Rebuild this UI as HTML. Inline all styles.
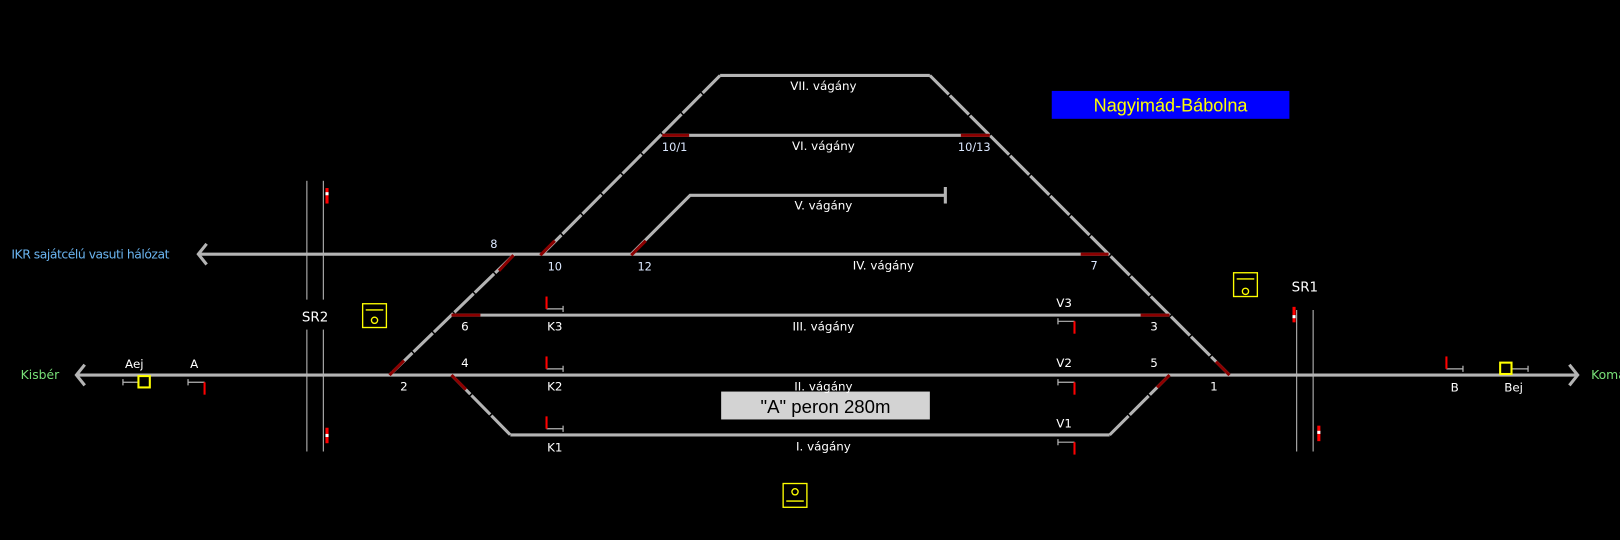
<!DOCTYPE html>
<html><head><meta charset="utf-8"><style>
html,body{margin:0;padding:0;background:#000;}
svg{display:block;}
text{font-family:"DejaVu Sans","Liberation Sans",sans-serif;}
</style></head><body>
<svg width="1620" height="540" viewBox="0 0 1568 522.67" preserveAspectRatio="none" xmlns="http://www.w3.org/2000/svg">
<rect width="1568" height="523" fill="#000"/>
<!-- SR lines -->
<g stroke="#a0a0a0" stroke-width="1.2">
<line x1="297" y1="175" x2="297" y2="290"/><line x1="313" y1="175" x2="313" y2="290"/>
<line x1="297" y1="319" x2="297" y2="437"/><line x1="313" y1="319" x2="313" y2="437"/>
<line x1="1255" y1="300" x2="1255" y2="437"/><line x1="1271" y1="300" x2="1271" y2="437"/>
</g>
<!-- tracks -->
<g stroke="#b4b4b4" stroke-width="3" fill="none">
<line x1="74" y1="363" x2="1527" y2="363"/>
<line x1="192" y1="246" x2="1073" y2="246"/>
<line x1="697" y1="73" x2="900" y2="73"/>
<line x1="641" y1="131" x2="958" y2="131"/>
<polyline points="611,246 668,189 915,189"/>
<line x1="915" y1="181" x2="915" y2="197"/>
<line x1="437" y1="305" x2="1132" y2="305"/>
<line x1="494" y1="421" x2="1074" y2="421"/>
<polyline points="82,353 74,363 82,373"/>
<polyline points="200,236 192,246 200,256"/>
<polyline points="1519,353 1527,363 1519,373"/>
</g>
<g stroke="#b4b4b4" stroke-width="3" fill="none" stroke-dasharray="26 1.5">
<line x1="525" y1="246" x2="697" y2="73"/>
<line x1="900" y1="73" x2="1190" y2="363"/>
<line x1="498" y1="246" x2="377" y2="363"/>
<line x1="437" y1="363" x2="494" y2="421"/>
<line x1="1074" y1="421" x2="1132" y2="363"/>
</g>
<!-- red switch parts -->
<g stroke="#8b0000" stroke-width="3">
<line x1="641" y1="131" x2="667" y2="131"/>
<line x1="930" y1="131" x2="958" y2="131"/>
<line x1="1046" y1="246" x2="1073" y2="246"/>
<line x1="1104" y1="305" x2="1132" y2="305"/>
<line x1="437" y1="305" x2="465" y2="305"/>
<line x1="1177" y1="350" x2="1190" y2="363"/>
<line x1="1132" y1="363" x2="1120" y2="375"/>
<line x1="377" y1="363" x2="391" y2="349"/>
<line x1="437" y1="363" x2="451" y2="377"/>
<line x1="483" y1="262" x2="497" y2="247"/>
<line x1="523" y1="247" x2="537" y2="233"/>
<line x1="611" y1="247" x2="625" y2="233"/>
</g>
<!-- SR markers -->
<g>
<rect x="315" y="182" width="3" height="15" fill="#f00"/><rect x="315" y="186" width="3" height="3" fill="#fff"/>
<rect x="315" y="414" width="3" height="15" fill="#f00"/><rect x="315" y="420" width="3" height="3" fill="#fff"/>
<rect x="1251" y="297" width="3" height="15" fill="#f00"/><rect x="1251" y="305" width="3" height="3" fill="#fff"/>
<rect x="1275" y="412" width="3" height="15" fill="#f00"/><rect x="1275" y="417" width="3" height="3" fill="#fff"/>
</g>
<!-- signals -->
<g stroke="#b4b4b4" stroke-width="1.2" fill="none">
<path d="M529,299 H545 M545,296 V302"/>
<path d="M529,357 H545 M545,354 V360"/>
<path d="M529,415 H545 M545,412 V418"/>
<path d="M1024,311 H1040 M1024,308 V314"/>
<path d="M1024,370 H1040 M1024,367 V373"/>
<path d="M1024,428 H1040 M1024,425 V431"/>
<path d="M182,370 H198 M182,367 V373"/>
<path d="M119,370 H134 M119,367 V373"/>
<path d="M1400,357 H1416 M1416,354 V360"/>
<path d="M1463,357 H1479 M1479,354 V360"/>
</g>
<g stroke="#f00" stroke-width="2">
<line x1="529" y1="287" x2="529" y2="299"/>
<line x1="529" y1="345" x2="529" y2="357"/>
<line x1="529" y1="403" x2="529" y2="415"/>
<line x1="1040" y1="311" x2="1040" y2="323"/>
<line x1="1040" y1="370" x2="1040" y2="382"/>
<line x1="1040" y1="428" x2="1040" y2="440"/>
<line x1="198" y1="370" x2="198" y2="382"/>
<line x1="1400" y1="345" x2="1400" y2="357"/>
</g>
<g stroke="#ff0" stroke-width="2" fill="none">
<rect x="134" y="364" width="11" height="11"/>
<rect x="1452" y="351" width="11" height="11"/>
</g>
<!-- yellow boxes -->
<g stroke="#ff0" stroke-width="1.3" fill="none">
<rect x="351" y="294" width="23" height="23"/><line x1="354" y1="300" x2="371" y2="300"/><circle cx="362.5" cy="310" r="3"/>
<rect x="1194" y="264" width="23" height="23"/><line x1="1197" y1="270" x2="1214" y2="270"/><circle cx="1205.5" cy="282" r="3"/>
<rect x="758" y="468" width="23" height="23"/><line x1="761" y1="485" x2="778" y2="485"/><circle cx="769.5" cy="476" r="3"/>
</g>
<!-- title & platform -->
<rect x="1018" y="88" width="230" height="27" fill="#0000ff"/>
<text x="1133" y="108" fill="#ff0" font-size="17.5" text-anchor="middle" style="font-family:'Liberation Sans',sans-serif">Nagyimád-Bábolna</text>
<rect x="698" y="379" width="202" height="27" fill="#d3d3d3"/>
<text x="799" y="400" fill="#000" font-size="18" text-anchor="middle" style="font-family:'Liberation Sans',sans-serif">"A" peron 280m</text>
<!-- labels -->
<g fill="#fff" font-size="11.5" text-anchor="middle">
<text x="797" y="87">VII. vágány</text>
<text x="797" y="145">VI. vágány</text>
<text x="797" y="203">V. vágány</text>
<text x="855" y="261">IV. vágány</text>
<text x="797" y="320">III. vágány</text>
<text x="797" y="378">II. vágány</text>
<text x="797" y="436">I. vágány</text>
<text x="537" y="320">K3</text><text x="537" y="378">K2</text><text x="537" y="437">K1</text>
<text x="1030" y="297">V3</text><text x="1030" y="355">V2</text><text x="1030" y="414">V1</text>
<text x="450" y="320">6</text><text x="1117" y="320">3</text>
<text x="450" y="355">4</text><text x="1117" y="355">5</text>
<text x="391" y="378">2</text><text x="1175" y="378">1</text>
<text x="130" y="356">Aej</text><text x="188" y="356">A</text>
<text x="1408" y="379">B</text><text x="1465" y="379">Bej</text>
<text x="305" y="311" font-size="13">SR2</text>
<text x="1263" y="282" font-size="13">SR1</text>
</g>
<g fill="#dbe8ff" font-size="11" text-anchor="middle">
<text x="653" y="146">10/1</text><text x="943" y="146">10/13</text>
<text x="478" y="240">8</text><text x="537" y="262">10</text><text x="624" y="262">12</text>
<text x="1059" y="261">7</text>
</g>
<text x="11" y="250" fill="#6ab4f0" font-size="12" textLength="153">IKR sajátcélú vasuti hálózat</text>
<text x="20" y="367" fill="#78e078" font-size="12">Kisbér</text>
<text x="1540" y="367" fill="#78e078" font-size="12">Komárom</text>
</svg>
</body></html>
